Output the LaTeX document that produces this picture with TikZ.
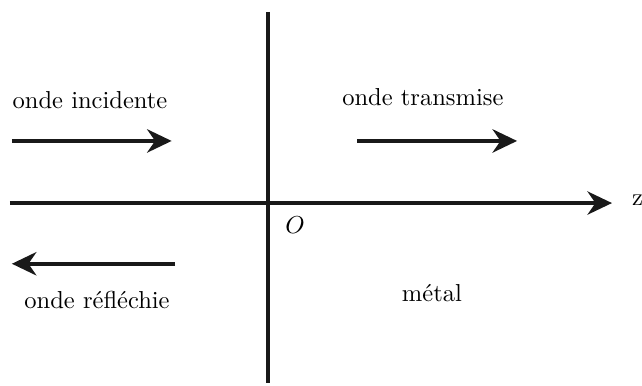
\documentclass[tikz,border=0pt]{standalone}
\usepackage{tikz}
\usetikzlibrary{arrows.meta}
\usetikzlibrary{positioning}
\tikzset{
    axisline/.style={
        line width=1.3pt,
        black!90
    },
    % ondes
    wavearrow/.style={
        line width=1.6pt,
        black!90,
        ->,
        >={Stealth[length=10pt, width=9.5pt]}
    }
}

\begin{document}
\begin{tikzpicture}
    \useasboundingbox (-3.84,-2.61) rectangle (5.36,2.91);

    \coordinate (top) at (0,2.74);
    \coordinate (bot) at (0,-2.58);
    \coordinate (zl) at (-3.70,0);
    \coordinate (zr) at (4.93,0);

    \draw[axisline] (top) -- (bot);
    \draw[axisline,->,>={Stealth[length=10pt, width=9.5pt]}] (zl) -- (zr);
    \node[anchor=west,inner sep=0pt] (z) at (5.21,0.04) {z};
    \node (O) at (0.39,-0.32) {$O$};

    \coordinate (i1) at (-3.67,0.89);
    \coordinate (i2) at (-1.38,0.89);
    \coordinate (t1) at (1.28,0.89);
    \coordinate (t2) at (3.57,0.89);
    \coordinate (r1) at (-1.33,-0.87);
    \coordinate (r2) at (-3.67,-0.87);

    \draw[wavearrow] (i1) -- (i2);
    \draw[wavearrow] (t1) -- (t2);
    \draw[wavearrow] (r1) -- (r2);

    \node (inc) at (-2.55,1.48) {onde incidente};
    \node (tra) at (2.22,1.52) {onde transmise};
    \node (ref) at (-2.45,-1.39) {onde réfléchie};
    \node (met) at (2.35,-1.29) {métal};
\end{tikzpicture}
\end{document}
